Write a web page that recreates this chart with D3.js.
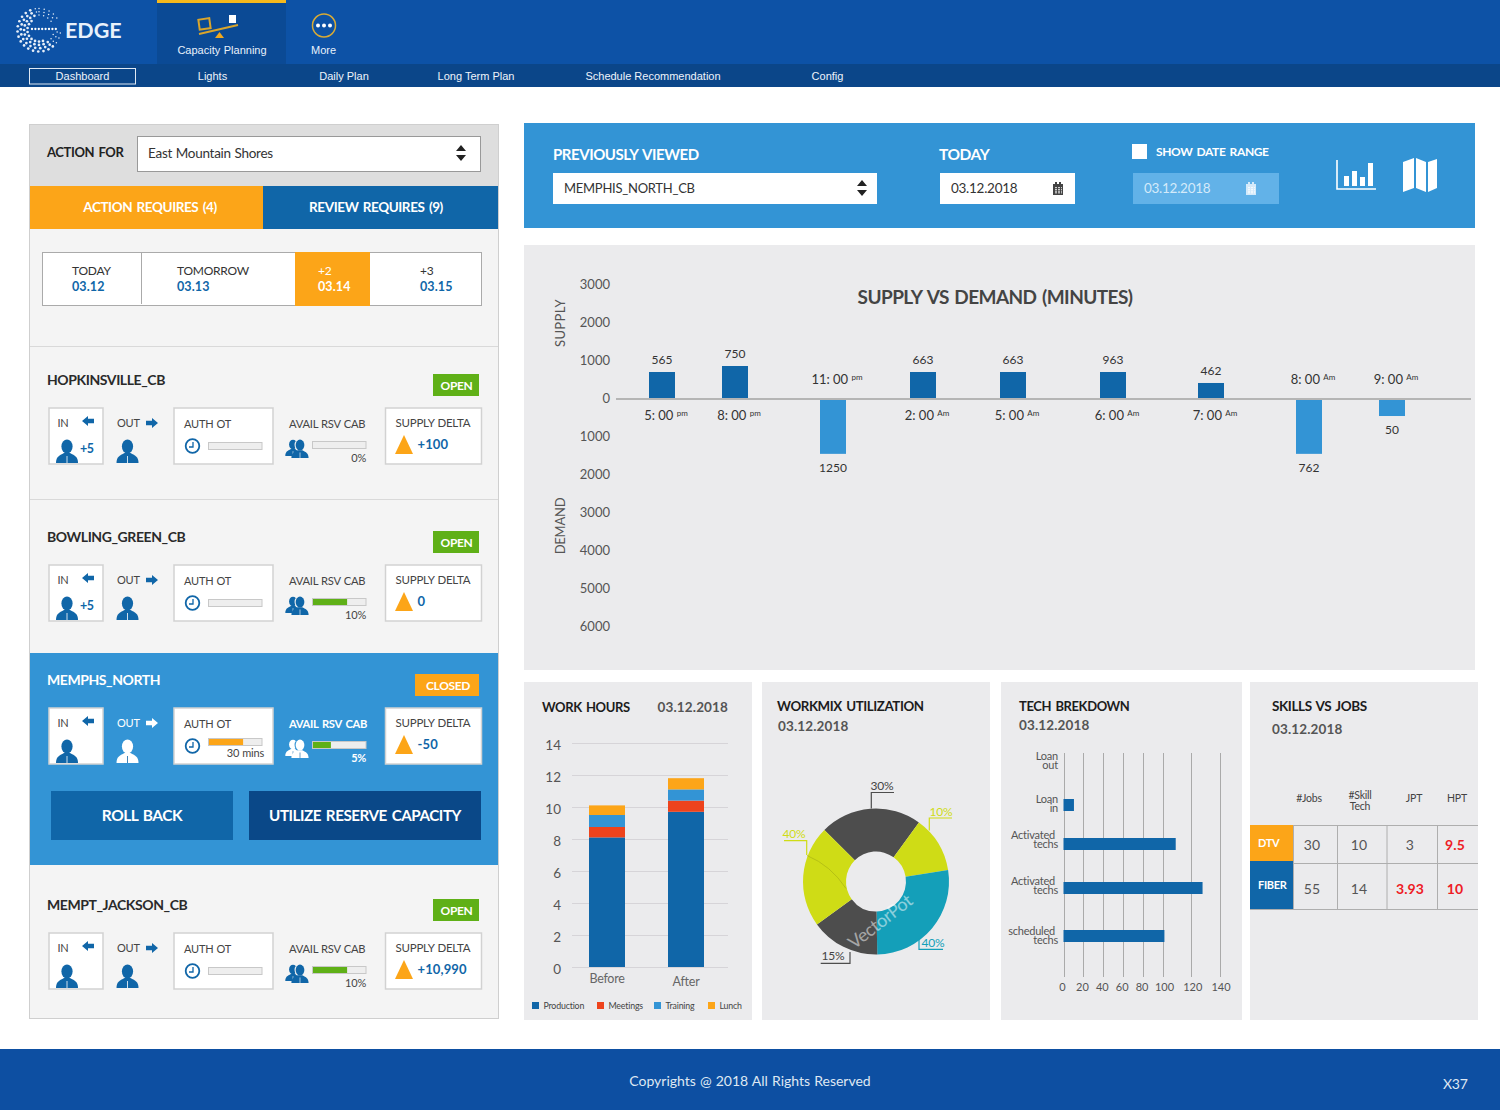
<!DOCTYPE html>
<html>
<head>
<meta charset="utf-8">
<title>Edge Dashboard</title>
<script src="https://cdn.jsdelivr.net/npm/d3@7"></script>
<style>
  body { margin: 0; background: #fff; }
  svg { display: block; }
  text { font-family: Lato, "Noto Sans", sans-serif; }
  .nav text { font-family: "Liberation Sans", Arial, sans-serif; letter-spacing: 0; }
  .tick line { shape-rendering: crispEdges; }
</style>
</head>
<body>
<div class="chart"></div>
<script>
// site cards
var siteNames = ["HOPKINSVILLE_CB", "BOWLING_GREEN_CB", "MEMPHS_NORTH", "MEMPT_JACKSON_CB"];
var siteStatus = ["OPEN", "OPEN", "CLOSED", "OPEN"];
var siteIn = ["+5", "+5", "", ""];
var siteAuthFill = [0, 0, 65, 0];
var siteAuthLabel = ["", "", "30 mins", ""];
var siteAvailFill = [0, 65, 35, 65];
var siteAvailLabel = ["0%", "10%", "5%", "10%"];
var siteDelta = ["+100", "0", "-50", "+10,990"];

// date strip
var dayNames = ["TODAY", "TOMORROW", "+2", "+3"];
var dayDates = ["03.12", "03.13", "03.14", "03.15"];

// supply vs demand
var slotTimes = ["5: 00", "8: 00", "11: 00", "2: 00", "5: 00", "6: 00", "7: 00", "8: 00", "9: 00"];
var slotMeridiem = ["pm", "pm", "pm", "Am", "Am", "Am", "Am", "Am", "Am"];
var slotBarValues = [684, 842, -1470, 684, 684, 684, 395, -1470, -474];
var slotLabels = ["565", "750", "1250", "663", "663", "963", "462", "762", "50"];
var supplyTicks = [3000, 2000, 1000, 0, -1000, -2000, -3000, -4000, -5000, -6000];

// work hours
var hourGroups = ["Before", "After"];
var hourSeries = ["Production", "Meetings", "Training", "Lunch"];
var hourProduction = [8.1, 9.7];
var hourMeetings = [0.65, 0.7];
var hourTraining = [0.75, 0.7];
var hourLunch = [0.6, 0.7];
var hourTicks = [0, 2, 4, 6, 8, 10, 12, 14];

// workmix donut (slice widths as drawn, labels as printed)
var workmixShares = [81, 45, 98, 55, 81];
var workmixLabels = ["30%", "10%", "40%", "15%", "40%"];

// tech breakdown
var techNames = [["Loan", "out"], ["Loan", "in"], ["Activated", "techs"], ["Activated", "techs"], ["scheduled", "techs"]];
var techValues = [0, 10.5, 109, 128, 101];
var techTicks = [0, 20, 40, 60, 80, 100, 120, 140];

// skills table
var skillHeaders = [["#Jobs"], ["#Skill", "Tech"], ["JPT"], ["HPT"]];
var skillRows = ["DTV", "FIBER"];
var skillValues = [["30", "10", "3", "9.5"], ["55", "14", "3.93", "10"]];
var skillAlerts = [[false, false, false, true], [false, false, true, true]];

var navTabs = ["Dashboard", "Lights", "Daily Plan", "Long Term Plan", "Schedule Recommendation", "Config"];

var blue = "#1066a8", lightBlue = "#3394d5", orange = "#fca518", green = "#5fb017",
  panelGrey = "#ebebed", ink = "#333", red = "#ee1c25";

var svg = d3.select(".chart").append("svg")
  .attr("width", 1500)
  .attr("height", 1110)
  .attr("viewBox", "0 0 1500 1110");

function rect(g, x0, y0, x1, y1, fill, stroke) {
  return g.append("rect")
    .attr("x", x0).attr("y", y0)
    .attr("width", x1 - x0).attr("height", y1 - y0)
    .attr("fill", fill)
    .attr("stroke", stroke || "none");
}

function label(g, x, y, str, size, color, weight, anchor) {
  return g.append("text")
    .attr("x", x).attr("y", y)
    .attr("font-size", size)
    .attr("fill", color || ink)
    .attr("font-weight", weight || 400)
    .attr("text-anchor", anchor || "start")
    .attr("letter-spacing", weight === 700 ? "-0.03em" : "-0.02em")
    .attr("word-spacing", weight === 700 ? "1.5px" : "0.5px")
    .text(str);
}

// dates and numbers in the reference run a bit wider than Lato's
function dateLabel(g, x, y, str, size, color, weight, anchor) {
  return label(g, x, y, str, size, color, weight, anchor).attr("letter-spacing", "0.01em");
}

function updown(g, x, y, color) {
  g.append("path")
    .attr("d", `M${x - 5},${y - 2}L${x},${y - 8}L${x + 5},${y - 2}Z M${x - 5},${y + 2}L${x},${y + 8}L${x + 5},${y + 2}Z`)
    .attr("fill", color);
}

function calendar(g, x, y, color) {
  rect(g, x - 5, y - 5, x + 5, y + 6, color);
  rect(g, x - 4, y - 2, x + 4, y + 5, "#fff").attr("opacity", 0.75);
  d3.range(3).forEach(function(i) {
    rect(g, x - 4 + i * 3, y - 2, x - 3 + i * 3, y + 5, color);
    rect(g, x - 4, y + i * 2.4 - 1, x + 4, y + i * 2.4 - 0.2, color);
  });
  rect(g, x - 3, y - 7, x - 1, y - 4, color);
  rect(g, x + 1, y - 7, x + 3, y - 4, color);
}

function person(g, cx, top, color) {
  g.append("ellipse").attr("cx", cx).attr("cy", top + 6.5).attr("rx", 5.6).attr("ry", 7).attr("fill", color);
  g.append("path")
    .attr("d", `M${cx - 11},${top + 23}C${cx - 11},${top + 17} ${cx - 8},${top + 15.5} ${cx - 3},${top + 13}L${cx + 3},${top + 13}C${cx + 8},${top + 15.5} ${cx + 11},${top + 17} ${cx + 11},${top + 23}Z`)
    .attr("fill", color);
  g.append("path")
    .attr("d", `M${cx},${top + 16}V${top + 23}`)
    .attr("stroke", color === "#fff" ? blue : "#fff")
    .attr("stroke-width", 0.8);
}

function arrow(g, x0, x1, y, color) {
  var head = x0 < x1 ? x1 - 6 : x1 + 6;
  g.append("path")
    .attr("d", `M${x0},${y - 2.2}H${head}V${y - 5}L${x1},${y}L${head},${y + 5}V${y + 2.2}H${x0}Z`)
    .attr("fill", color);
}

// top navigation
var nav = svg.append("g").attr("class", "nav");
rect(nav, 0, 0, 1500, 64, "#0d52a6");
rect(nav, 0, 64, 1500, 87, "#0b4689");
rect(nav, 157, 0, 286, 64, "#0b4a95");
rect(nav, 157, 0, 286, 3, "#f6b91d");

// logo: dotted globe bent into an "e"
var logo = nav.append("g").attr("transform", "translate(39,30)");
d3.range(4).forEach(function(ring) {
  var r = 21.5 - ring * 3.3;
  d3.range(0, 360, 14 + ring * 2).forEach(function(deg) {
    if (deg >= 62 && deg <= 92) return;
    if (ring > 2 && Math.abs(deg - 240) > 90) return;
    var a = deg * Math.PI / 180;
    var size = Math.abs(deg - 240) < 110 ? 1.35 : 0.75;
    logo.append("circle")
      .attr("cx", r * Math.sin(a))
      .attr("cy", -r * Math.cos(a))
      .attr("r", size)
      .attr("fill", "#e6eef8");
  });
});
d3.range(-7, 20, 3.4).forEach(function(x) {
  logo.append("circle").attr("cx", x).attr("cy", -1).attr("r", 1.15).attr("fill", "#fff");
});
label(nav, 65, 38, "EDGE", 21.5, "#e8f1fb", 700).style("font-family", "Lato, sans-serif").attr("letter-spacing", 0);

// capacity planning icon
nav.append("path").attr("d", "M199,34L238,25").attr("stroke", "#d9a52c").attr("stroke-width", 2);
rect(nav, 199, 19, 210, 29, "none", "#d9a52c").attr("stroke-width", 2).attr("transform", "rotate(-8 204 24)");
rect(nav, 229, 15, 236, 23, "#fff");
nav.append("path").attr("d", "M215,38L219.5,32L224,38Z").attr("fill", "#f2a81d");
label(nav, 222, 54, "Capacity Planning", 11, "#e8f1fb", 400, "middle");

nav.append("circle").attr("cx", 324).attr("cy", 25.5).attr("r", 11.5).attr("fill", "none").attr("stroke", "#d9ab35").attr("stroke-width", 1.5);
[-6, 0, 6].forEach(function(dx) {
  nav.append("circle").attr("cx", 324 + dx).attr("cy", 25.5).attr("r", 2).attr("fill", "#fff");
});
label(nav, 323.5, 54, "More", 11, "#e8f1fb", 400, "middle");

var navX = d3.scaleOrdinal().domain(navTabs).range([82.5, 212.5, 344, 476, 653, 827.5]);
rect(nav, 29.5, 68.5, 135.5, 84, "none", "#dfe9f4");
navTabs.forEach(function(t) {
  label(nav, navX(t), 80, t, 11, "#eef4fb", 400, "middle").attr("word-spacing", 0);
});

// left column
var left = svg.append("g");
rect(left, 29.5, 124.5, 498.5, 1018.5, "#f4f4f4", "#cfcfcf");
rect(left, 30, 125, 498, 186, "#dedede");
label(left, 47, 157, "ACTION FOR", 13, "#222", 700);
rect(left, 137.5, 136.5, 480.5, 171.5, "#fff", "#999");
label(left, 148, 158, "East Mountain Shores", 13.5, ink);
updown(left, 461, 153, "#222");
rect(left, 30, 186, 263, 229, orange);
rect(left, 263, 186, 498, 229, blue);
label(left, 150, 212, "ACTION REQUIRES (4)", 13.5, "#fff", 700, "middle");
label(left, 376, 212, "REVIEW REQUIRES (9)", 13.5, "#fff", 700, "middle");

// date strip
var dayX = d3.scaleOrdinal().domain(dayNames).range([72, 177, 318, 420]);
rect(left, 42.5, 252.5, 481.5, 305.5, "#fff", "#aaa");
left.append("path").attr("d", "M141.5,253V304").attr("stroke", "#aaa");
rect(left, 295, 252, 370, 306, orange);
dayNames.forEach(function(d, i) {
  var active = i === 2;
  label(left, dayX(d), 275, d, 12, active ? "#fff" : ink);
  dateLabel(left, dayX(d), 291, dayDates[i], 12.5, active ? "#fff" : blue, 700);
});

left.append("path").attr("d", "M30,346.5H498M30,499.5H498").attr("stroke", "#d9d9d9");
rect(left, 30, 653, 498, 865, lightBlue);

var siteOffsets = d3.scaleOrdinal().domain(siteNames).range([0, 157, 300, 525]);
var barX = d3.scaleLinear().domain([0, 100]);

siteNames.forEach(function(name, i) {
  var selected = i === 2;
  var g = left.append("g").attr("transform", `translate(0,${siteOffsets(name)})`);
  var outerInk = selected ? "#fff" : "#444";
  var boxStroke = "#d2d2d2";

  label(g, 47, 385, name, 14, selected ? "#fff" : "#2a2a2a", 700);
  var closed = siteStatus[i] === "CLOSED";
  rect(g, closed ? 415 : 433, 374, 479, 396, closed ? orange : green);
  label(g, closed ? 448 : 456.5, 390, siteStatus[i], 12, "#fff", 700, "middle");

  // in / out
  rect(g, 49, 408, 103, 464, "#fff", boxStroke).attr("stroke-width", 1.5);
  label(g, 57.5, 427, "IN", 11, "#444");
  arrow(g, 94, 82, 421, blue);
  person(g, 67, 440, blue);
  if (siteIn[i]) label(g, 80, 453, siteIn[i], 12.5, blue, 700);
  label(g, 117, 427, "OUT", 11, outerInk);
  arrow(g, 146, 158, 423, selected ? "#fff" : blue);
  person(g, 127.5, 440, selected ? "#fff" : blue);

  // auth ot
  rect(g, 174, 408, 273, 464, "#fff", boxStroke).attr("stroke-width", 1.5);
  label(g, 184, 428, "AUTH OT", 11, "#444");
  g.append("circle").attr("cx", 192.5).attr("cy", 446).attr("r", 6.8).attr("fill", "#fff").attr("stroke", blue).attr("stroke-width", 1.8);
  g.append("path").attr("d", "M193,442V447H189").attr("fill", "none").attr("stroke", blue).attr("stroke-width", 1.3);
  barX.range([208, 262]);
  // the bar sits higher when it has a caption under it
  var authTop = siteAuthLabel[i] ? 438.5 : 442.5;
  rect(g, 208.5, authTop, 262, authTop + 7, "#eee", "#c8c8c8");
  if (siteAuthFill[i]) rect(g, 209, authTop + 0.5, barX(siteAuthFill[i]), authTop + 6.5, orange);
  if (siteAuthLabel[i]) label(g, 264, 457, siteAuthLabel[i], 11, "#444", 400, "end");

  // avail rsv cab
  label(g, 289, 428, "AVAIL RSV CAB", 11.2, selected ? "#fff" : "#444", selected ? 700 : 400);
  var iconColor = selected ? "#fff" : blue;
  person(g.append("g").attr("transform", "translate(293,440) scale(0.7)"), 0, 0, iconColor);
  var iconFront = g.append("g").attr("transform", "translate(300,440) scale(0.78)");
  iconFront.append("ellipse").attr("cx", 0).attr("cy", 6.5).attr("rx", 7).attr("ry", 8.3).attr("fill", selected ? lightBlue : "#f4f4f4");
  person(iconFront, 0, 0, iconColor);
  barX.range([312, 366]);
  rect(g, 312.5, 441.5, 366, 448.5, "#eee", "#c8c8c8");
  if (siteAvailFill[i]) rect(g, 313, 442, barX(siteAvailFill[i]), 448, green);
  label(g, 366, 462, siteAvailLabel[i], 11, selected ? "#fff" : "#444", selected ? 700 : 400, "end");

  // supply delta
  rect(g, 385.5, 408, 481.5, 464, "#fff", boxStroke).attr("stroke-width", 1.5);
  label(g, 395.5, 427, "SUPPLY DELTA", 11.5, "#444");
  g.append("path").attr("d", "M395,454L404,435L413,454Z").attr("fill", orange);
  dateLabel(g, 417.5, 449, siteDelta[i], 13, blue, 700);
});

rect(left, 51, 791, 233, 840, blue);
rect(left, 249, 791, 481, 840, "#0a4888");
label(left, 142, 821, "ROLL BACK", 15.5, "#fff", 700, "middle");
label(left, 365, 821, "UTILIZE RESERVE CAPACITY", 15.2, "#fff", 700, "middle");

// previously viewed bar
var header = svg.append("g");
rect(header, 524, 123, 1475, 228, lightBlue);
label(header, 553, 160, "PREVIOUSLY VIEWED", 15, "#fff", 700);
label(header, 939, 160, "TODAY", 15.5, "#fff", 700);
rect(header, 553, 173, 877, 204, "#fff");
label(header, 564, 193, "MEMPHIS_NORTH_CB", 13, ink);
updown(header, 862, 188, "#222");
rect(header, 940, 173, 1075, 204, "#fff");
label(header, 951, 193, "03.12.2018", 13.5, ink);
calendar(header, 1058, 189, "#444");
rect(header, 1132, 144, 1147, 159, "#fff");
label(header, 1156, 156, "SHOW DATE RANGE", 12, "#fff", 700);
rect(header, 1133, 173, 1279, 204, "#62b2e8");
label(header, 1144, 193, "03.12.2018", 13.5, "#d4eafa");
calendar(header, 1251, 189, "#d4eafa");

// little chart + map icons
header.append("path").attr("d", "M1337,160V189H1376").attr("fill", "none").attr("stroke", "#fff").attr("stroke-width", 1.6);
[[1344, 176], [1352, 171], [1360, 177], [1368, 163]].forEach(function(b) {
  rect(header, b[0], b[1], b[0] + 5, 186, "#fff");
});
header.append("path")
  .attr("d", "M1403,162L1414,158V188L1403,192Z M1416,158L1426,162V192L1416,188Z M1428,162L1437,159V188L1428,192Z")
  .attr("fill", "#fff");

// supply vs demand chart
var sd = svg.append("g");
rect(sd, 524, 245, 1475, 670, panelGrey);
label(sd, 995, 304, "SUPPLY VS DEMAND (MINUTES)", 19, "#444", 700, "middle");
label(sd, 0, 0, "SUPPLY", 13, "#555", 400, "middle").attr("letter-spacing", "0.03em").attr("transform", "translate(565,323) rotate(-90)");
label(sd, 0, 0, "DEMAND", 13, "#555", 400, "middle").attr("transform", "translate(565,526) rotate(-90)");

var sdY = d3.scaleLinear().domain([3000, -6000]).range([284, 626]);
var sdAxis = d3.axisLeft(sdY).tickValues(supplyTicks).tickSize(0).tickPadding(0)
  .tickFormat(function(d) { return Math.abs(d); });
var sdAxisG = sd.append("g").attr("transform", "translate(610,0)").call(sdAxis);
sdAxisG.select(".domain").remove();
sdAxisG.selectAll("text").attr("font-size", 13).attr("fill", "#555").style("font-family", "Lato, sans-serif");

var slotIds = d3.range(slotTimes.length);
var sdX = d3.scaleOrdinal().domain(slotIds).range([662, 735, 833, 923, 1013, 1113, 1211, 1309, 1392]);
sd.selectAll(".slot-bar").data(slotIds).enter().append("rect")
  .attr("class", "slot-bar")
  .attr("x", function(d) { return sdX(d) - 13; })
  .attr("width", 26)
  .attr("y", function(d) { return Math.min(sdY(slotBarValues[d]), sdY(0)); })
  .attr("height", function(d) { return Math.abs(sdY(slotBarValues[d]) - sdY(0)); })
  .attr("fill", function(d) { return slotBarValues[d] > 0 ? blue : lightBlue; });
rect(sd, 616, 398, 1471, 400, "#b5b5b5");

sd.selectAll(".slot-value").data(slotIds).enter().append("text")
  .attr("class", "slot-value")
  .attr("x", function(d) { return sdX(d); })
  .attr("y", function(d) { return sdY(slotBarValues[d]) + (slotBarValues[d] > 0 ? -8 : 18); })
  .attr("text-anchor", "middle")
  .attr("font-size", 12)
  .attr("fill", "#333")
  .text(function(d) { return slotLabels[d]; });

var slotTime = sd.selectAll(".slot-time").data(slotIds).enter().append("text")
  .attr("class", "slot-time")
  .attr("x", function(d) { return sdX(d) + 4; })
  .attr("y", function(d) { return slotBarValues[d] > 0 ? 420 : 384; })
  .attr("text-anchor", "middle")
  .attr("font-size", 13)
  .attr("fill", "#333");
slotTime.append("tspan").text(function(d) { return slotTimes[d] + " "; });
slotTime.append("tspan").attr("dy", -4).attr("font-size", 8).text(function(d) { return slotMeridiem[d]; });

// work hours
var wh = svg.append("g");
rect(wh, 524, 682, 752, 1020, panelGrey);
label(wh, 542, 712, "WORK HOURS", 13, "#1c1c1c", 700);
dateLabel(wh, 728, 712, "03.12.2018", 13.5, "#555", 700, "end");

var whY = d3.scaleLinear().domain([0, 14]).range([967, 743]);
var whAxis = d3.axisLeft(whY).tickValues(hourTicks).tickSize(-156).tickPadding(11);
var whAxisG = wh.append("g").attr("transform", "translate(572,0)").call(whAxis);
whAxisG.select(".domain").remove();
whAxisG.selectAll("line").attr("stroke", "#d6d4d8");
whAxisG.selectAll("text").attr("font-size", 13.5).attr("fill", "#555").attr("dy", "0.46em").style("font-family", "Lato, sans-serif");

var hourRows = hourGroups.map(function(g, i) {
  return { group: g, Production: hourProduction[i], Meetings: hourMeetings[i], Training: hourTraining[i], Lunch: hourLunch[i] };
});
var hourColor = d3.scaleOrdinal().domain(hourSeries).range([blue, "#ee431c", lightBlue, orange]);
var whX = d3.scaleOrdinal().domain(hourGroups).range([589, 668]);
var stacked = d3.stack().keys(hourSeries)(hourRows);
wh.selectAll(".hour-layer").data(stacked).enter().append("g")
  .attr("class", "hour-layer")
  .attr("fill", function(d) { return hourColor(d.key); })
  .selectAll("rect").data(function(d) { return d; }).enter().append("rect")
  .attr("x", function(d) { return whX(d.data.group); })
  .attr("width", 36)
  .attr("y", function(d) { return whY(d[1]); })
  .attr("height", function(d) { return whY(d[0]) - whY(d[1]); });

label(wh, 607, 983, "Before", 12.5, "#666", 400, "middle");
label(wh, 686, 986, "After", 12.5, "#666", 400, "middle");

var legendX = d3.scaleOrdinal().domain(hourSeries).range([532, 597, 654, 708]);
hourSeries.forEach(function(s) {
  rect(wh, legendX(s), 1002, legendX(s) + 7, 1009, hourColor(s));
  label(wh, legendX(s) + 11.5, 1009, s, 8.8, "#444");
});

// workmix donut
var wm = svg.append("g");
rect(wm, 762, 682, 990, 1020, panelGrey);
label(wm, 777, 711, "WORKMIX UTILIZATION", 13.3, "#1c1c1c", 700);
dateLabel(wm, 778, 731, "03.12.2018", 13.5, "#555", 700);

var sliceColors = ["#4d4d4d", "#cfdc16", "#149fb9", "#4d4d4d", "#cfdc16"];
var pie = d3.pie().sort(null).startAngle(-Math.PI / 4).endAngle(Math.PI * 7 / 4);
var arc = d3.arc().innerRadius(30).outerRadius(73);
var donut = wm.append("g").attr("transform", "translate(876,881.5)");
donut.selectAll("path").data(pie(workmixShares)).enter().append("path")
  .attr("d", arc)
  .attr("fill", function(d, i) { return sliceColors[i]; });
// faint fold line across the left slice
donut.append("path").attr("d", "M-69,-26Q-45,-16 -30,7").attr("fill", "none").attr("stroke", "#aeb914").attr("stroke-width", 0.8);

var leaderColors = ["#4d4d4d", "#cfdc16", "#149fb9", "#4d4d4d", "#cfdc16"];
var leaderPaths = ["M-4.7,-73V-89H18", "M53.3,-51V-63.5H76", "M43,56.5V67.8H67", "M-26,70.5V81.8H-55.3", "M-69.3,-26.5V-40.8H-92"];
var leaderText = [[6, -92], [65, -66], [57, 65], [-43, 78], [-82, -44]];
leaderPaths.forEach(function(p, i) {
  donut.append("path").attr("d", p).attr("fill", "none").attr("stroke", leaderColors[i]).attr("stroke-width", 1.2);
  label(donut, leaderText[i][0], leaderText[i][1], workmixLabels[i], 12, i === 0 || i === 3 ? "#444" : leaderColors[i], 400, "middle");
});
label(donut, 0, 0, "VectorPot", 18, "#fff", 400, "middle")
  .attr("transform", "translate(8,45) rotate(-38)")
  .attr("opacity", 0.5);

// tech breakdown
var tb = svg.append("g");
rect(tb, 1001, 682, 1242, 1020, panelGrey);
label(tb, 1019, 711, "TECH BREKDOWN", 13, "#1c1c1c", 700);
dateLabel(tb, 1019, 730, "03.12.2018", 13.5, "#555", 700);

var tbX = d3.scaleLinear().domain([0, 100, 140]).range([1063.5, 1163, 1219.5]);
var tbAxis = d3.axisBottom(tbX).tickValues(techTicks).tickSize(-224).tickPadding(6);
var tbAxisG = tb.append("g").attr("transform", "translate(0,977)").call(tbAxis);
tbAxisG.select(".domain").remove();
tbAxisG.selectAll("line").attr("stroke", "#aaa");
tbAxisG.selectAll("text")
  .attr("font-size", 11)
  .attr("fill", "#555")
  .attr("dx", function(d) { return d < 100 ? -1.5 : 1; })
  .style("font-family", "Lato, sans-serif");

var techIds = d3.range(techNames.length);
var tbY = d3.scaleOrdinal().domain(techIds).range([761, 805, 844, 888, 936]);
var tbLabelY = d3.scaleOrdinal().domain(techIds).range([759.5, 802.5, 838.5, 884.5, 934.5]);
tb.selectAll(".tech-bar").data(techIds).enter().append("rect")
  .attr("class", "tech-bar")
  .attr("x", tbX(0))
  .attr("y", function(d) { return tbY(d) - 6; })
  .attr("width", function(d) { return tbX(techValues[d]) - tbX(0); })
  .attr("height", 12)
  .attr("fill", blue);
// two tight lines, kept in one text element
techNames.forEach(function(lines, i) {
  var t = label(tb, 0, tbLabelY(i), "", 11, "#555", 400, "end");
  t.append("tspan").attr("x", i > 1 ? 1055 : 1058).text(lines[0]);
  t.append("tspan").attr("x", 1058).attr("dy", 9).text(lines[1]);
});

// skills vs jobs
var sk = svg.append("g");
rect(sk, 1250, 682, 1478, 1020, panelGrey);
label(sk, 1272, 711, "SKILLS VS JOBS", 13.5, "#1c1c1c", 700);
dateLabel(sk, 1272, 734, "03.12.2018", 13.5, "#555", 700);

var colX = d3.scaleOrdinal().domain(d3.range(4)).range([1312, 1359, 1410, 1455]);
var headX = d3.scaleOrdinal().domain(d3.range(4)).range([1309, 1360, 1414, 1457]);
skillHeaders.forEach(function(lines, i) {
  var t = label(sk, 0, lines.length > 1 ? 799 : 802, "", 10.5, "#444", 400, "middle");
  lines.forEach(function(line, k) {
    t.append("tspan").attr("x", headX(i)).attr("dy", k ? 11 : 0).text(line);
  });
});
sk.append("path")
  .attr("d", "M1250,825.5H1478M1293,863.5H1478M1250,909.5H1478M1293.5,825V909M1337.5,825V909M1387,825V909M1437.5,825V909")
  .attr("stroke", "#aeaeae")
  .attr("fill", "none");
rect(sk, 1250, 825, 1293, 861, orange);
rect(sk, 1250, 861, 1293, 909, blue);
var rowY = d3.scaleOrdinal().domain(skillRows).range([850, 894]);
var rowLabelY = d3.scaleOrdinal().domain(skillRows).range([847, 889]);
skillRows.forEach(function(r, i) {
  label(sk, 1258, rowLabelY(r), r, 11, "#fff", 700);
  skillValues[i].forEach(function(v, j) {
    dateLabel(sk, colX(j), rowY(r), v, 14, skillAlerts[i][j] ? red : "#555", skillAlerts[i][j] ? 700 : 400, "middle");
  });
});

// footer
var foot = svg.append("g");
rect(foot, 0, 1049, 1500, 1110, "#0d4fa2");
label(foot, 750, 1086, "Copyrights @ 2018 All Rights Reserved", 14, "#dfe8f3", 400, "middle").attr("letter-spacing", 0);
label(foot, 1443, 1089, "X37", 14, "#dfe8f3");
</script>
</body>
</html>
